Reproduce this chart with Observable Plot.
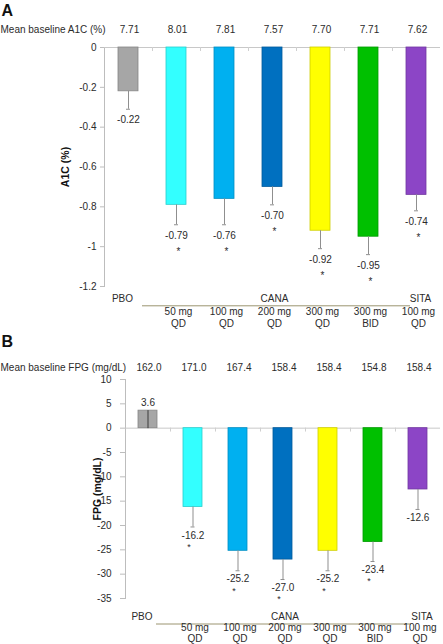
<!DOCTYPE html>
<html><head><meta charset="utf-8">
<script src="https://cdn.jsdelivr.net/npm/d3@7"></script>
<script src="https://cdn.jsdelivr.net/npm/@observablehq/plot@0.6"></script>
<style>
body{margin:0;background:#fff;}
#chart{width:443px;}
#chart svg{display:block;}
</style>
</head><body><div id="chart"></div>
<script>
const categories = ["PBO","CANA 50 mg QD","CANA 100 mg QD","CANA 200 mg QD","CANA 300 mg QD","CANA 300 mg BID","SITA 100 mg QD"];
const barColors = ["#a6a6a6","#33ffff","#00b0f0","#0070c0","#ffff00","#00c000","#8c45c6"];
const groupLabels = ["PBO","CANA","SITA"];
const groupAnchors = ["PBO","CANA 200 mg QD","SITA 100 mg QD"];
const doseLabels = ["","50 mg\nQD","100 mg\nQD","200 mg\nQD","300 mg\nQD","300 mg\nBID","100 mg\nQD"];

const a1cChange = [-0.22,-0.79,-0.76,-0.70,-0.92,-0.95,-0.74];
const a1cSE = [0.09,0.10,0.13,0.09,0.09,0.09,0.08];
const a1cBaseline = ["7.71","8.01","7.81","7.57","7.70","7.71","7.62"];
const a1cSignificant = [false,true,true,true,true,true,true];
const a1cTicks = [0,-0.2,-0.4,-0.6,-0.8,-1,-1.2];

const fpgChange = [3.6,-16.2,-25.2,-27.0,-25.2,-23.4,-12.6];
const fpgSE = [3.7,4.1,4.1,4.1,4.1,4.0,4.1];
const fpgBaseline = ["162.0","171.0","167.4","158.4","158.4","154.8","158.4"];
const fpgSignificant = [false,true,true,true,true,true,false];
const fpgTicks = [10,5,0,-5,-10,-15,-20,-25,-30,-35];

const FONT = "Liberation Sans, Arial, sans-serif";
const TEXT = "#2b2b2b";

function panel(o) {
  const data = categories.map((c, i) => ({
    cat: c, value: o.values[i], se: o.se[i], color: barColors[i],
    edge: d3.color(barColors[i]).darker(0.6).formatHex(),
    base: o.baseline[i], sig: o.sig[i], dose: doseLabels[i],
    end: o.values[i] - o.se[i]
  }));
  const groups = groupLabels.map((g, i) => ({label: g, at: groupAnchors[i]}));
  const width = 443;
  const step = (width - o.marginLeft - o.marginRight) / categories.length;
  const neg = data.filter(d => d.value < 0);
  const pos = data.filter(d => d.value >= 0);
  const M = "middle";
  return Plot.plot({
    width, height: o.height,
    marginTop: o.marginTop, marginBottom: o.marginBottom,
    marginLeft: o.marginLeft, marginRight: o.marginRight,
    style: {fontFamily: FONT, fontSize: "10px", color: TEXT, background: "#fff", overflow: "visible"},
    x: {type: "band", domain: categories, paddingInner: 0.58, paddingOuter: 0.29, axis: null},
    y: {domain: o.domain, axis: null},
    marks: [
      Plot.frame({anchor: "left", stroke: "#bdbdbd"}),
      Plot.axisY({ticks: o.ticks, tickFormat: o.tickFmt, tickSize: o.tickSize, tickPadding: o.tickPadding,
        stroke: "#bdbdbd", fill: TEXT, label: null, fontSize: 10}),
      Plot.ruleY([0], {stroke: "#c8c8c8"}),
      Plot.ruleX(categories.slice(1), {x: d => d, y1: 0, y2: o.zeroTick, dx: -step / 2, stroke: "#cfcfcf"}),
      Plot.barY(data, {x: "cat", y: "value", fill: "color", stroke: "edge", strokeWidth: 0.8}),
      Plot.ruleX(neg, {x: "cat", y1: "value", y2: "end", stroke: "#8f8f8f"}),
      Plot.ruleX(pos, {x: "cat", y1: "value", y2: "end", stroke: "#3a3a3a"}),
      Plot.tickY(neg, {x: "cat", y: "end", stroke: "#8f8f8f", insetLeft: o.capInset, insetRight: o.capInset}),
      Plot.text(neg, {x: "cat", y: "end", text: d => o.valueFmt(d.value), dy: o.labelDy, fill: TEXT}),
      Plot.text(pos, {x: "cat", y: "value", text: d => o.valueFmt(d.value), dy: o.posLabelDy, fill: TEXT}),
      Plot.text(data.filter(d => d.sig), {x: "cat", y: "end", text: () => "*", dy: o.starDy, dx: o.starDx, fontSize: o.starSize, fill: TEXT}),
      Plot.text(data, {x: "cat", text: "base", frameAnchor: "top", lineAnchor: M, dy: o.baseDy, dx: 1, fill: TEXT}),
      Plot.text([o.baselineTitle], {frameAnchor: "top-left", textAnchor: "start", lineAnchor: M, dx: -o.marginLeft, dy: o.baseDy, fill: TEXT}),
      Plot.text([o.letter], {frameAnchor: "top-left", textAnchor: "start", lineAnchor: M, dx: -o.marginLeft + 1, dy: o.letterDy, fontSize: 16, fontWeight: "bold", fill: "#111"}),
      Plot.text([o.yLabel], {frameAnchor: "left", textAnchor: M, lineAnchor: M, rotate: -90, dx: o.yLabelDx, fontWeight: "bold", fontSize: 10.5, fill: "#111"}),
      Plot.text(groups.filter(g => g.label === "PBO"), {x: "at", text: "label", frameAnchor: "bottom", lineAnchor: M, dy: o.groupDy, dx: -6, fill: TEXT}),
      Plot.text(groups.filter(g => g.label === "CANA"), {x: "at", text: "label", frameAnchor: "bottom", lineAnchor: M, dy: o.groupDy, dx: 2, fill: TEXT}),
      Plot.text(groups.filter(g => g.label === "SITA"), {x: "at", text: "label", frameAnchor: "bottom", lineAnchor: M, dy: o.groupDy, dx: 4, fill: TEXT}),
      Plot.ruleY([o.domain[0]], {x1: () => categories[1], x2: () => categories[5], dy: o.lineDy,
        insetLeft: o.lineInsetL, insetRight: o.lineInsetR, stroke: "#9b9470"}),
      Plot.text(data, {x: "cat", text: "dose", frameAnchor: "bottom", lineAnchor: M, dy: o.doseDy, dx: 2, lineHeight: o.lineHeight, fill: TEXT})
    ]
  });
}

const chart = document.getElementById("chart");
chart.append(panel({
  letter: "A", baselineTitle: "Mean baseline A1C (%)", yLabel: "A1C (%)",
  values: a1cChange, se: a1cSE, baseline: a1cBaseline, sig: a1cSignificant,
  domain: [-1.2, 0], ticks: a1cTicks, tickFmt: d => String(+d.toFixed(1)),
  valueFmt: v => v.toFixed(2),
  height: 330, marginTop: 47, marginBottom: 44, marginLeft: 104, marginRight: 3,
  tickSize: 4, tickPadding: 4, zeroTick: -0.02, capInset: 8,
  labelDy: 11, posLabelDy: -8, starDy: 27, starDx: 2, starSize: 10,
  baseDy: -18, letterDy: -37, yLabelDx: -39,
  groupDy: 12, lineDy: 19.3, doseDy: 30.8, lineHeight: 1.2,
  lineInsetL: -24, lineInsetR: -32
}));
chart.append(panel({
  letter: "B", baselineTitle: "Mean baseline FPG (mg/dL)", yLabel: "FPG (mg/dL)",
  values: fpgChange, se: fpgSE, baseline: fpgBaseline, sig: fpgSignificant,
  domain: [-35, 10], ticks: fpgTicks, tickFmt: d => String(d),
  valueFmt: v => v.toFixed(1),
  height: 314, marginTop: 49, marginBottom: 46, marginLeft: 125, marginRight: 3,
  tickSize: 5, tickPadding: 9, zeroTick: -0.8, capInset: 7.5,
  labelDy: 8.5, posLabelDy: -8, starDy: 20, starDx: -4, starSize: 9,
  baseDy: -11.3, letterDy: -38, yLabelDx: -28,
  groupDy: 18.2, lineDy: 25.5, doseDy: 34.8, lineHeight: 1.08,
  lineInsetL: -27, lineInsetR: -29
}));
</script>
</body></html>
